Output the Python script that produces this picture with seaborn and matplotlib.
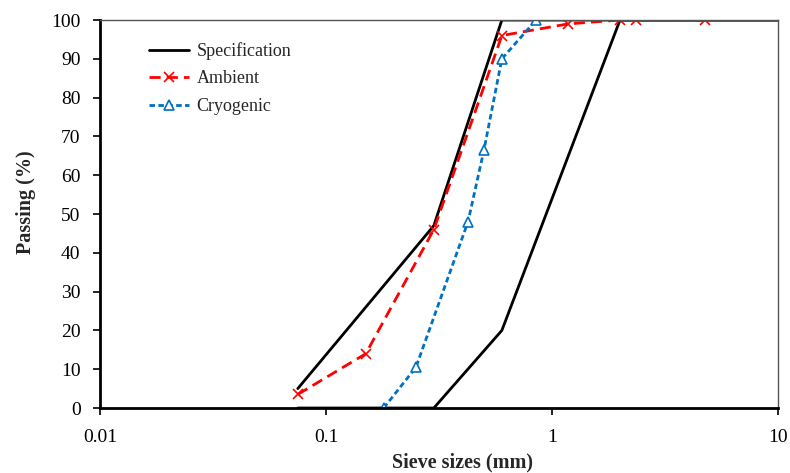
import matplotlib
matplotlib.use("Agg")
import matplotlib.pyplot as plt
import seaborn as sns
import pandas as pd
from matplotlib.ticker import FixedLocator, FixedFormatter, NullLocator

# Data
spec_upper_x = [0.075, 0.3, 0.6, 10]
spec_upper_y = [5, 47, 100, 100]
spec_lower_x = [0.075, 0.3, 0.6, 2.0, 10]
spec_lower_y = [0, 0, 20, 100, 100]
ambient_x = [0.075, 0.15, 0.3, 0.6, 1.18, 2.0, 2.36, 4.75]
ambient_y = [3.5, 14, 46, 96, 99, 100, 100, 100]
cryo_x = [0.18, 0.25, 0.425, 0.5, 0.6, 0.85]
cryo_y = [0, 10.5, 48, 66.5, 90, 100]
xticks = [0.01, 0.1, 1, 10]
xticklabels = ["0.01", "0.1", "1", "10"]
yticks = list(range(0, 101, 10))

sns.set_theme(style="white")
plt.rcParams['font.family'] = ['Liberation Serif', 'DejaVu Serif']

fig = plt.figure(figsize=(7.9, 4.73), dpi=100)
ax = fig.add_axes([0.1266, 0.1374, 0.8582, 0.8203])

df_up = pd.DataFrame({"x": spec_upper_x, "y": spec_upper_y})
df_lo = pd.DataFrame({"x": spec_lower_x, "y": spec_lower_y})
df_am = pd.DataFrame({"x": ambient_x, "y": ambient_y})
df_cr = pd.DataFrame({"x": cryo_x, "y": cryo_y})

sns.lineplot(data=df_up, x="x", y="y", ax=ax, color="black", lw=2,
             sort=False, estimator=None, label="Specification")
sns.lineplot(data=df_lo, x="x", y="y", ax=ax, color="black", lw=2,
             sort=False, estimator=None, label="_nolegend_")
sns.lineplot(data=df_am, x="x", y="y", ax=ax, color="#FF0000", lw=2,
             sort=False, estimator=None, label="Ambient",
             marker="x", markersize=7, markeredgewidth=1.2,
             markeredgecolor="#FF0000",
             dashes=False, linestyle=(0, (4, 2.2)))
sns.lineplot(data=df_cr, x="x", y="y", ax=ax, color="#0070C0", lw=2,
             sort=False, estimator=None, label="Cryogenic",
             marker="^", markersize=7, markeredgewidth=1.2,
             markerfacecolor="white", markeredgecolor="#0070C0",
             dashes=False, linestyle=(0, (2.0, 1.2)))

ax.set_xscale("log")
ax.set_xlim(0.01, 10)
ax.set_ylim(0, 100)
ax.xaxis.set_major_locator(FixedLocator(xticks))
ax.xaxis.set_major_formatter(FixedFormatter(xticklabels))
ax.xaxis.set_minor_locator(NullLocator())
ax.set_yticks(yticks)

for s in ["left", "bottom"]:
    ax.spines[s].set_color("black")
    ax.spines[s].set_linewidth(2)
for s in ["top", "right"]:
    ax.spines[s].set_color("#555555")
    ax.spines[s].set_linewidth(1.0)

ax.tick_params(axis="both", direction="out", length=5, width=1.2, colors="black",
               labelsize=14, bottom=True, left=True)
ax.tick_params(axis="x", pad=10)
ax.tick_params(axis="y", pad=9)

ax.set_xlabel("Sieve sizes (mm)", fontsize=14.5, fontweight="bold")
ax.set_ylabel("Passing (%)", fontsize=14.5, fontweight="bold")
ax.xaxis.set_label_coords(0.534, -0.114)
ax.yaxis.set_label_coords(-0.094, 0.531)

leg = ax.legend(loc="upper left", bbox_to_anchor=(0.049, 0.985), frameon=False,
                fontsize=13, handlelength=2.2, handletextpad=0.4, labelspacing=0.58)

fig.savefig("out.png", dpi=100)
